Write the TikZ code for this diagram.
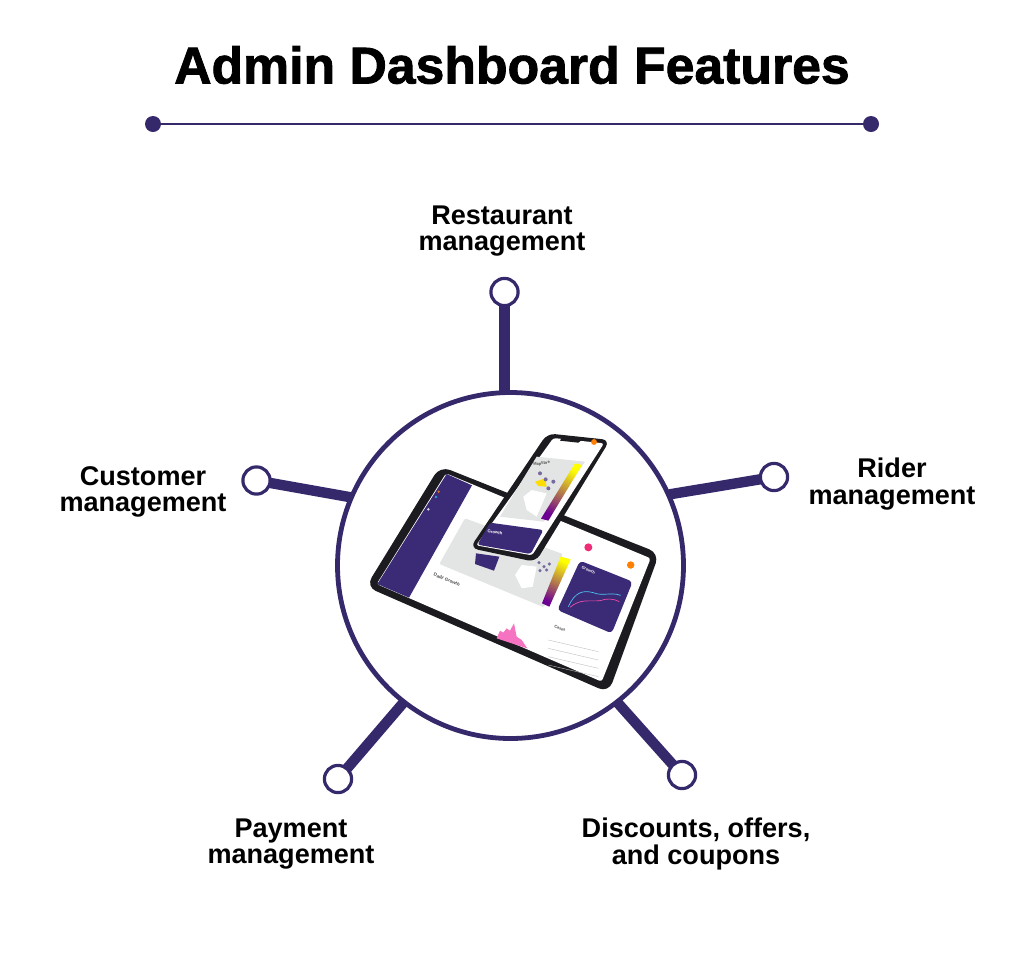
\documentclass[tikz,border=0pt]{standalone}
\usepackage{fontspec}
\setmainfont{Liberation Sans}
\newfontfamily\titlefont[FakeBold=1.6]{Liberation Sans Bold}
\definecolor{ink}{HTML}{35286B}
\definecolor{panel}{HTML}{3B2A75}
\definecolor{land}{HTML}{E2E5E3}
\definecolor{bezel}{HTML}{1B1B20}
\begin{document}
\begin{tikzpicture}[x=0.75pt,y=-0.75pt,-,thick,
    hub node/.style={circle,draw=ink,line width=3.6pt,minimum size=259.5pt,inner sep=0pt},
    end node/.style={circle,draw=ink,line width=2.4pt,fill=white,minimum size=20.4pt,inner sep=0pt},
    dot node/.style={circle,fill=ink,minimum size=12pt,inner sep=0pt,outer sep=0pt},
    label node/.style={align=center,font=\bfseries\fontsize{20.3}{19.6}\selectfont,text=black},
    spoke/.style={draw=ink,line width=7.8pt,shorten <=-1pt,shorten >=-1pt}]
    \useasboundingbox (0,0) rectangle (1024,958);

    % mock-up, in units of a third of a pixel
    \begin{scope}[shift={(340,410)},x=0.25pt,y=-0.25pt]
        % tablet
        \fill[bezel,rounded corners=8pt] (300,168) -- (958,430) -- (806,848) -- (78,530) -- cycle;
        \fill[white,rounded corners=2pt] (318,190) -- (932,445) -- (785,815) -- (110,522) -- cycle;
        \fill[panel] (320,192) -- (396,226) -- (207,563) -- (112,522) -- cycle;
        \foreach \x/\y/\c in {296/245/orange,288/261/cyan,265/298/white} {\fill[\c!80!panel] (\x,\y) circle (1pt);}
        \fill[land,rounded corners=1pt] (375,325) -- (668,432) -- (612,592) -- (298,462) -- cycle;
        \fill[white] (545,465) -- (590,470) -- (578,530) -- (545,535) -- (525,495) -- cycle;
        \fill[panel] (408,430) -- (478,440) -- (462,482) -- (405,462) -- cycle;
        \path[top color=yellow,middle color=magenta!80!orange,bottom color=violet!85!blue,shading angle=-25]
            (662,440) -- (692,448) -- (628,590) -- (606,580) -- cycle;
        \foreach \x/\y in {597/458,612/470,600/482,620/480,628/462} {\fill[panel!70!white] (\x,\y) circle (1.3pt);}
        \fill[panel,rounded corners=3pt] (720,452) -- (878,515) -- (815,670) -- (652,600) -- cycle;
        \draw[cyan!70!white,line width=0.5pt] (685,590) .. controls (705,545) and (730,540) .. (760,548) .. controls (790,560) and (810,545) .. (842,556);
        \draw[magenta!70!white,line width=0.5pt] (690,592) .. controls (720,565) and (750,575) .. (780,572) .. controls (800,565) and (820,565) .. (838,575);
        \fill[magenta!70!orange] (745,412) circle (3pt);
        \fill[orange] (872,465) circle (2.8pt);
        \fill[magenta!55!white] (470,685) -- (480,662) -- (490,668) -- (500,655) -- (510,662) -- (522,640) -- (530,680) -- (545,690) -- (562,715) -- (530,705) -- cycle;
        \foreach \y in {690,715,740,765} {\draw[black!25,line width=0.3pt] (625,\y) -- (775,\y+35);}
        \node[font=\bfseries\fontsize{3}{3}\selectfont,text=white,rotate=-22] (cardtext) at (745,480) {Growth};
        \node[font=\bfseries\fontsize{3.4}{3}\selectfont,text=black!70,rotate=-22] (dailytext) at (320,510) {Daily Growth};
        \node[font=\bfseries\fontsize{3}{3}\selectfont,text=black!70,rotate=-22] (casestext) at (660,655) {Cases};
        % phone
        \fill[bezel,rounded corners=6pt] (622,70) -- (810,90) -- (587,456) -- (390,414) -- cycle;
        \fill[white,rounded corners=2pt] (640,84) -- (792,100) -- (576,436) -- (408,406) -- cycle;
        \fill[land] (590,140) -- (735,155) -- (612,335) -- (480,320) -- cycle;
        \fill[white] (575,240) -- (620,250) -- (590,320) -- (560,300) -- (550,260) -- cycle;
        \fill[yellow!80!orange] (585,215) -- (615,205) -- (620,230) -- (595,228) -- cycle;
        \foreach \x/\y in {617/208,640/215,600/190,625/235} {\fill[panel!70!white] (\x,\y) circle (1.5pt);}
        \path[top color=yellow,middle color=magenta!80!orange,bottom color=violet!85!blue,shading angle=-30]
            (705,160) -- (726,165) -- (625,332) -- (603,326) -- cycle;
        \fill[panel,rounded corners=2pt] (450,338) -- (610,360) -- (572,432) -- (412,404) -- cycle;
        \node[font=\bfseries\fontsize{3.2}{3}\selectfont,text=white,rotate=-10] (phonetext) at (465,367) {Growth};
        \node[font=\bfseries\fontsize{3}{3}\selectfont,text=black!70,rotate=8] (phonemap) at (605,161) {Maplibre};
        \fill[bezel] (665,84) -- (725,90) -- (715,98) -- (660,92) -- cycle;
        \fill[orange] (762,96) circle (2.2pt);
    \end{scope}

    \node[font=\titlefont\fontsize{38.8}{40}\selectfont] (title) at (512,65) {Admin Dashboard Features};
    \node[dot node] (ruleleft) at (153,124) {};
    \node[dot node] (ruleright) at (871,124) {};

    \node[hub node] (hub) at (510.5,565.5) {};
    \node[end node] (top) at (504.5,292) {};
    \node[end node] (right) at (774,477) {};
    \node[end node] (left) at (256.5,480.5) {};
    \node[end node] (lower left) at (338,779) {};
    \node[end node] (lower right) at (682,775) {};

    \node[label node] (toplabel) at (502,231) {Restaurant\\management};
    \node[label node] (rightlabel) at (892,484) {Rider\\management};
    \node[label node] (leftlabel) at (143,492) {Customer\\management};
    \node[label node] (lowerleftlabel) at (291,844) {Payment\\management};
    \node[label node] (lowerrightlabel) at (696,844) {Discounts, offers,\\and coupons};

    \path[draw=ink,line width=2.2pt] (ruleleft) edge (ruleright);
    \path[spoke]
        (top.south -| hub.92) edge (hub.92)
        (right) edge (hub.24)
        (left) edge (hub.157)
        (lower left) edge (hub.232)
        (lower right) edge (hub.-52)
        ;
\end{tikzpicture}
\end{document}
